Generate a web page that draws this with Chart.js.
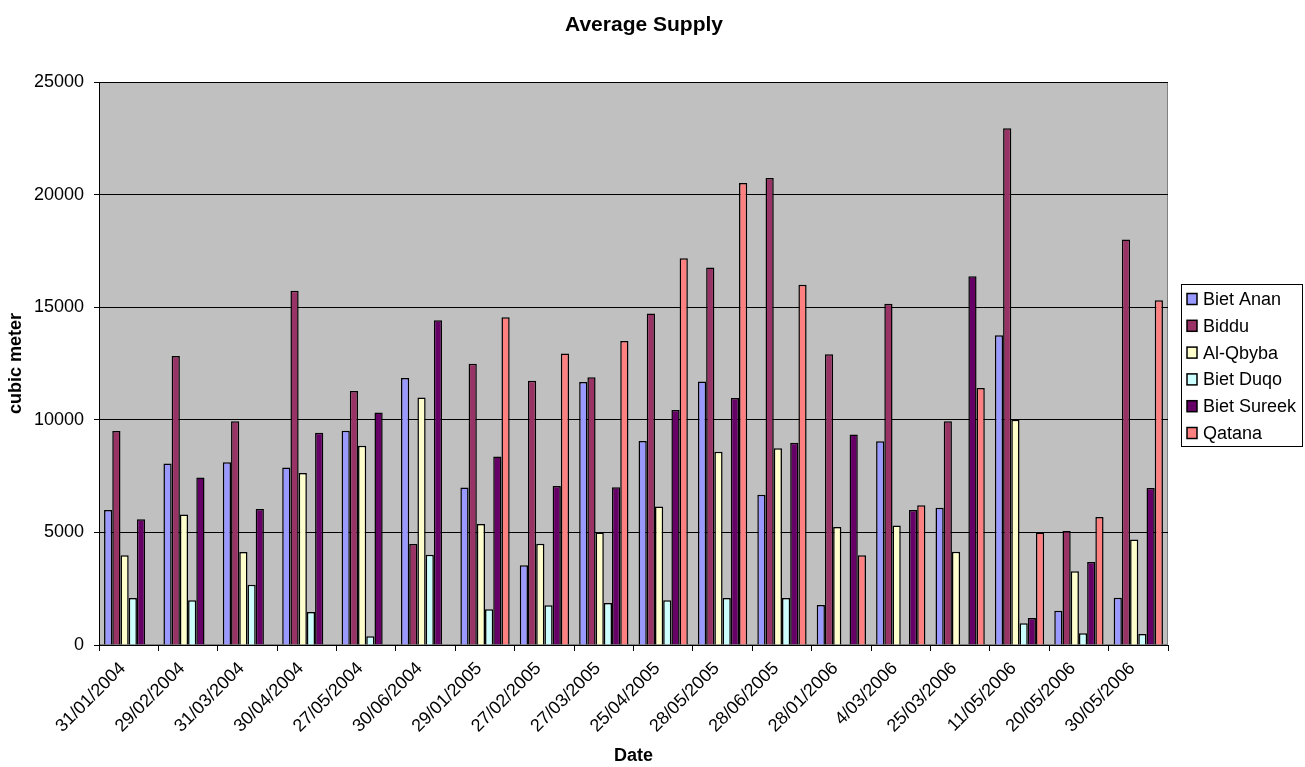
<!DOCTYPE html>
<html>
<head>
<meta charset="utf-8">
<title>Average Supply</title>
<script src="https://cdn.jsdelivr.net/npm/chart.js@4.4.1/dist/chart.umd.min.js"></script>
<style>
  html, body { margin: 0; padding: 0; background: #fff; }
  canvas { display: block; }
</style>
</head>
<body>
<canvas id="supplyChart" width="1305" height="767"></canvas>
<script>
// values (cubic meter)
const dates = ["31/01/2004", "29/02/2004", "31/03/2004", "30/04/2004", "27/05/2004", "30/06/2004",
    "29/01/2005", "27/02/2005", "27/03/2005", "25/04/2005", "28/05/2005", "28/06/2005",
    "28/01/2006", "4/03/2006", "25/03/2006", "11/05/2006", "20/05/2006", "30/05/2006"];

const bietAnan = [6000, 8060, 8120, 7880, 9515, 11860, 6990, 3540, 11680, 9060, 11700, 6670, 1780, 9045, 6100, 13750, 1520, 2100];
const biddu = [9500, 12830, 9935, 15730, 11280, 4480, 12490, 11730, 11890, 14725, 16760, 20740, 12910, 15150, 9935, 22945, 5065, 18010];
const alQbyba = [3980, 5790, 4130, 7640, 8850, 10990, 5370, 4500, 5000, 6150, 8580, 8740, 5240, 5310, 4140, 10000, 3270, 4680];
const bietDuqo = [2090, 1990, 2670, 1470, 390, 4010, 1590, 1760, 1860, 1990, 2090, 2090, null, null, null, 970, 520, 485];
const bietSureek = [5580, 7440, 6035, 9420, 10320, 14420, 8370, 7060, 7010, 10440, 10970, 8980, 9350, 5990, 16375, 1200, 3690, 6975];
const qatana = [null, null, null, null, null, null, 14550, 12945, 13500, 17170, 20520, 16000, 3980, 6210, 11410, 5000, 5680, 15310];

const yTicks = [0, 5000, 10000, 15000, 20000, 25000];

const seriesNames = ["Biet Anan", "Biddu", "Al-Qbyba", "Biet Duqo", "Biet Sureek", "Qatana"];
const seriesColors = ["#9999FF", "#993366", "#FFFFCC", "#CCFFFF", "#660066", "#FF8080"];
const seriesData = [bietAnan, biddu, alQbyba, bietDuqo, bietSureek, qatana];

const FONT = "'Liberation Sans', Arial, sans-serif";
const chartTitle = "Average Supply";

// grey plot area with its frame, plus the title
const plotBackground = {
    id: "plotBackground",
    beforeDraw(chart) {
        const { ctx, chartArea: a } = chart;
        ctx.save();
        ctx.fillStyle = "#C0C0C0";
        ctx.fillRect(a.left, a.top, a.right - a.left, a.bottom - a.top);
        ctx.strokeStyle = "#808080";
        ctx.lineWidth = 1;
        ctx.strokeRect(a.left + 0.5, a.top + 0.5, a.right - a.left - 1, a.bottom - a.top - 1);

        ctx.fillStyle = "#000";
        ctx.font = "bold 21px " + FONT;
        ctx.textAlign = "center";
        ctx.textBaseline = "alphabetic";
        ctx.fillText(chartTitle, 644, 31);
        ctx.restore();
    }
};

// Excel-like boxed legend on the right
const boxLegend = {
    id: "boxLegend",
    afterDraw(chart) {
        const ctx = chart.ctx;
        ctx.save();
        ctx.fillStyle = "#fff";
        ctx.fillRect(1181, 284, 122, 163);
        ctx.strokeStyle = "#000";
        ctx.lineWidth = 1;
        ctx.strokeRect(1181.5, 284.5, 121, 162);
        ctx.font = "18px " + FONT;
        ctx.textBaseline = "middle";
        chart.data.datasets.forEach(function (ds, i) {
            const y = 299 + i * 26.8;
            ctx.fillStyle = ds.backgroundColor;
            ctx.fillRect(1187, y - 5.5, 10, 11);
            ctx.lineWidth = 1.5;
            ctx.strokeStyle = "#000";
            ctx.strokeRect(1187, y - 5.5, 10, 11);
            ctx.fillStyle = "#000";
            ctx.fillText(ds.label, 1203, y + 1);
        });
        ctx.restore();
    }
};

const datasets = seriesNames.map(function (name, i) {
    return {
        label: name,
        data: seriesData[i],
        backgroundColor: seriesColors[i],
        borderColor: "#000",
        borderWidth: 1.5
    };
});

Chart.defaults.font.family = FONT;
Chart.defaults.color = "#000";

new Chart(document.getElementById("supplyChart"), {
    type: "bar",
    data: { labels: dates, datasets: datasets },
    options: {
        responsive: false,
        animation: false,
        devicePixelRatio: 1,
        datasets: {
            bar: { categoryPercentage: 0.83, barPercentage: 1.0 }
        },
        layout: { padding: { left: 0, right: 137, top: 82, bottom: 0 } },
        plugins: {
            legend: { display: false },
            tooltip: { enabled: false },
            title: { display: false }
        },
        scales: {
            x: {
                grid: {
                    display: true,
                    drawOnChartArea: false,
                    drawTicks: true,
                    tickLength: 6,
                    color: "#000"
                },
                border: { display: true, color: "#000", width: 1 },
                ticks: {
                    autoSkip: false,
                    maxRotation: 45,
                    minRotation: 45,
                    font: { size: 18 },
                    color: "#000",
                    padding: 7,
                    labelOffset: -6
                },
                title: {
                    display: true,
                    text: "Date",
                    font: { size: 18, weight: "bold" },
                    color: "#000",
                    padding: { top: 0, bottom: 0 }
                },
                afterFit(scale) { scale.height = 122; }
            },
            y: {
                min: 0,
                max: 25000,
                afterBuildTicks(scale) {
                    scale.ticks = yTicks.map(function (v) { return { value: v }; });
                },
                grid: {
                    color: "#000",
                    lineWidth: 1,
                    tickLength: 5
                },
                border: { display: true, color: "#000", width: 1 },
                ticks: {
                    font: { size: 18 },
                    color: "#000",
                    padding: 10,
                    callback: function (value) { return String(value); }
                },
                title: {
                    display: true,
                    text: "cubic meter",
                    font: { size: 18, weight: "bold" },
                    color: "#000",
                    padding: { top: 5, bottom: 0 }
                },
                afterFit(scale) { scale.width = 99; }
            }
        }
    },
    plugins: [plotBackground, boxLegend]
});
</script>
</body>
</html>
